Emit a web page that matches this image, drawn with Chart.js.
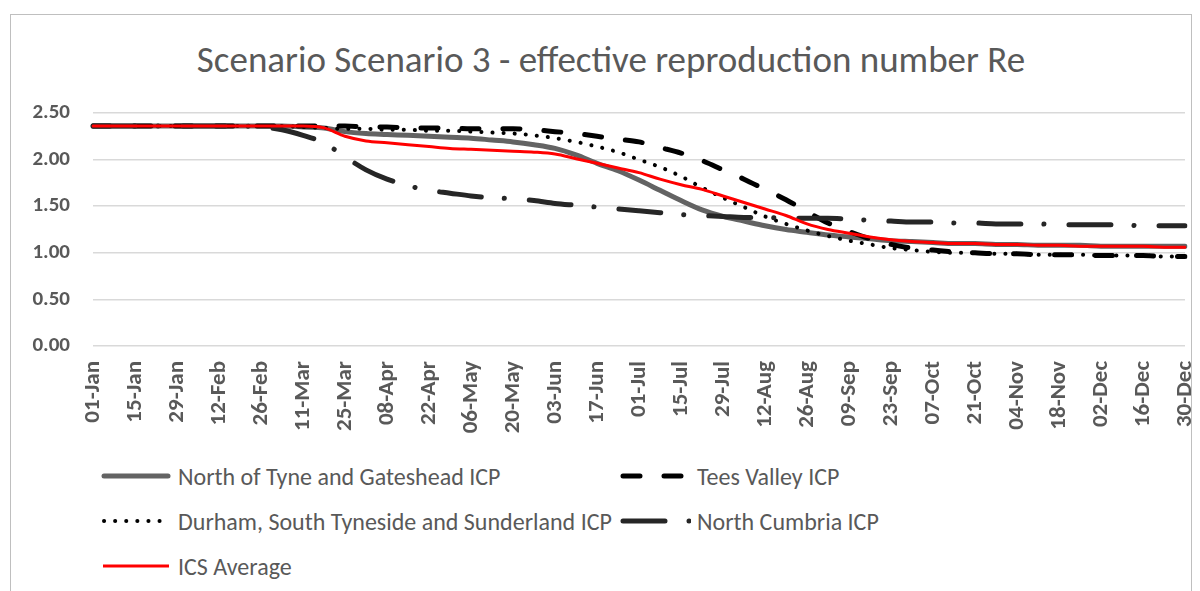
<!DOCTYPE html>
<html>
<head>
<meta charset="utf-8">
<script src="https://cdn.jsdelivr.net/npm/chart.js@4.4.1/dist/chart.umd.min.js"></script>
<style>
  body { margin: 0; background: #fff; width: 1200px; height: 591px; overflow: hidden; font-family: Carlito, Lato, sans-serif; }
  #frame { position: absolute; left: 10px; top: 14px; width: 1180px; height: 600px; border: 1px solid #bfbfbf; border-bottom: none; }
  #title { position: absolute; left: 11px; top: 38px; width: 1200px; text-align: center; font-size: 37px; font-weight: 300; line-height: 44px; color: #595959; white-space: nowrap; }
  #wrap { position: absolute; left: 0; top: 0; width: 1200px; height: 456px; }
  .leg { position: absolute; height: 30px; display: flex; align-items: center; font-size: 24px; color: #595959; white-space: nowrap; }
  .leg svg { margin-right: 6px; }
</style>
</head>
<body>
<div id="frame"></div>
<div id="title">Scenario Scenario 3 - effective reproduction number Re</div>
<div id="wrap"><canvas id="reChart"></canvas></div>

<div class="leg" style="left:100px; top:461px;">
  <svg width="72" height="10"><line x1="4" y1="5" x2="68" y2="5" stroke="#636363" stroke-width="5" stroke-linecap="round"/></svg>North of Tyne and Gateshead ICP
</div>
<div class="leg" style="left:618px; top:461px;">
  <svg width="73" height="10"><line x1="5" y1="5" x2="68" y2="5" stroke="#000" stroke-width="5" stroke-linecap="round" stroke-dasharray="17 24"/></svg>Tees Valley ICP
</div>
<div class="leg" style="left:100px; top:506px;">
  <svg width="72" height="10"><line x1="4" y1="5" x2="70" y2="5" stroke="#000" stroke-width="4" stroke-linecap="round" stroke-dasharray="0.1 11"/></svg>Durham, South Tyneside and Sunderland ICP
</div>
<div class="leg" style="left:618px; top:506px;">
  <svg width="73" height="10"><line x1="5" y1="5" x2="72" y2="5" stroke="#262626" stroke-width="5" stroke-linecap="round" stroke-dasharray="42 24 0.1 30"/></svg>North Cumbria ICP
</div>
<div class="leg" style="left:100px; top:551px;">
  <svg width="72" height="10"><line x1="3" y1="5" x2="69" y2="5" stroke="#ff0000" stroke-width="3"/></svg>ICS Average
</div>

<script>
// weekly dates, 2020 (every second one is shown on the axis)
var weekLabels = ['01-Jan', '08-Jan', '15-Jan', '22-Jan', '29-Jan', '05-Feb', '12-Feb', '19-Feb', '26-Feb',
  '04-Mar', '11-Mar', '18-Mar', '25-Mar', '01-Apr', '08-Apr', '15-Apr', '22-Apr', '29-Apr',
  '06-May', '13-May', '20-May', '27-May', '03-Jun', '10-Jun', '17-Jun', '24-Jun',
  '01-Jul', '08-Jul', '15-Jul', '22-Jul', '29-Jul', '05-Aug', '12-Aug', '19-Aug', '26-Aug',
  '02-Sep', '09-Sep', '16-Sep', '23-Sep', '30-Sep', '07-Oct', '14-Oct', '21-Oct', '28-Oct',
  '04-Nov', '11-Nov', '18-Nov', '25-Nov', '02-Dec', '09-Dec', '16-Dec', '23-Dec', '30-Dec'];

var yTicks = [0, 0.5, 1, 1.5, 2, 2.5];

var northTyne = [2.36, 2.36, 2.36, 2.36, 2.36, 2.36, 2.36, 2.36, 2.36, 2.36,
  2.35, 2.34, 2.30, 2.28, 2.27, 2.26, 2.25, 2.24, 2.23, 2.21,
  2.19, 2.16, 2.12, 2.05, 1.96, 1.88, 1.78, 1.67, 1.56, 1.46,
  1.39, 1.34, 1.29, 1.25, 1.22, 1.19, 1.17, 1.15, 1.13, 1.12,
  1.11, 1.10, 1.10, 1.09, 1.09, 1.08, 1.08, 1.08, 1.07, 1.07,
  1.07, 1.07, 1.07];

var teesValley = [2.36, 2.36, 2.36, 2.36, 2.36, 2.36, 2.36, 2.36, 2.36, 2.36,
  2.36, 2.36, 2.36, 2.35, 2.35, 2.34, 2.34, 2.34, 2.33, 2.33,
  2.33, 2.32, 2.30, 2.28, 2.25, 2.22, 2.19, 2.13, 2.07, 1.99,
  1.89, 1.79, 1.68, 1.57, 1.44, 1.32, 1.23, 1.15, 1.09, 1.05,
  1.03, 1.01, 1.00, 0.99, 0.99, 0.98, 0.98, 0.98, 0.97, 0.97,
  0.97, 0.96, 0.96];

var durham = [2.36, 2.36, 2.36, 2.36, 2.36, 2.36, 2.36, 2.36, 2.36, 2.36,
  2.35, 2.34, 2.33, 2.33, 2.32, 2.32, 2.31, 2.31, 2.30, 2.29,
  2.28, 2.26, 2.23, 2.19, 2.14, 2.08, 2.00, 1.92, 1.82, 1.70,
  1.59, 1.49, 1.39, 1.31, 1.24, 1.18, 1.13, 1.09, 1.05, 1.03,
  1.01, 1.00, 1.00, 0.99, 0.99, 0.98, 0.98, 0.98, 0.97, 0.97,
  0.97, 0.96, 0.96];

var northCumbria = [2.36, 2.36, 2.36, 2.36, 2.36, 2.36, 2.36, 2.36, 2.35, 2.32,
  2.26, 2.18, 2.03, 1.89, 1.79, 1.72, 1.67, 1.64, 1.61, 1.59,
  1.58, 1.56, 1.53, 1.51, 1.49, 1.47, 1.45, 1.43, 1.41, 1.40,
  1.39, 1.38, 1.38, 1.37, 1.37, 1.37, 1.36, 1.35, 1.34, 1.33,
  1.33, 1.32, 1.32, 1.31, 1.31, 1.31, 1.30, 1.30, 1.30, 1.30,
  1.29, 1.29, 1.29];

var icsAverage = [2.36, 2.36, 2.36, 2.36, 2.36, 2.36, 2.36, 2.36, 2.36, 2.36,
  2.36, 2.34, 2.25, 2.20, 2.18, 2.16, 2.14, 2.12, 2.11, 2.10,
  2.09, 2.08, 2.06, 2.01, 1.96, 1.91, 1.86, 1.79, 1.73, 1.68,
  1.61, 1.54, 1.47, 1.40, 1.31, 1.25, 1.21, 1.17, 1.14, 1.12,
  1.11, 1.10, 1.10, 1.09, 1.09, 1.08, 1.08, 1.07, 1.07, 1.07,
  1.07, 1.06, 1.06];

var fontName = 'Carlito, Lato, sans-serif';

function lineSet(label, data, color, width, dash, order) {
  return {
    label: label,
    data: data,
    borderColor: color,
    backgroundColor: color,
    borderWidth: width,
    borderDash: dash,
    borderCapStyle: 'round',
    pointRadius: 0,
    cubicInterpolationMode: 'monotone',
    order: order
  };
}

var reData = {
  labels: weekLabels,
  datasets: [
    lineSet('North of Tyne and Gateshead ICP', northTyne, '#636363', 5, [], 4),
    lineSet('Tees Valley ICP', teesValley, '#000000', 5, [17, 24], 3),
    lineSet('Durham, South Tyneside and Sunderland ICP', durham, '#000000', 4, [0.1, 11], 2),
    lineSet('North Cumbria ICP', northCumbria, '#262626', 5, [42, 23, 0.1, 25], 1),
    lineSet('ICS Average', icsAverage, '#ff0000', 3, [], 0)
  ]
};

var reConfig = {
  type: 'line',
  data: reData,
  options: {
    responsive: true,
    maintainAspectRatio: false,
    animation: false,
    layout: { padding: { left: 0, right: 15, top: 113, bottom: 0 } },
    plugins: {
      legend: { display: false },
      tooltip: { enabled: false },
      title: { display: false }
    },
    scales: {
      x: {
        type: 'category',
        offset: false,
        grid: { display: false },
        border: { display: false },
        ticks: {
          autoSkip: false,
          maxRotation: 90,
          minRotation: 90,
          padding: 7,
          color: '#595959',
          font: { family: fontName, size: 23, weight: 'bold' },
          callback: function (val, index) {
            return index % 2 === 0 ? this.getLabelForValue(val) : '';
          }
        },
        afterFit: function (scale) {
          scale.height = 110;
          scale.paddingLeft = 0;
          scale.paddingRight = 0;
        }
      },
      y: {
        min: 0,
        max: 2.5,
        afterBuildTicks: function (scale) {
          scale.ticks = yTicks.map(function (v) { return { value: v }; });
        },
        grid: { color: '#d9d9d9', lineWidth: 1.5, drawTicks: false },
        border: { display: false },
        ticks: {
          padding: 23,
          color: '#595959',
          font: { family: fontName, size: 21, weight: 'bold' },
          callback: function (v) { return v.toFixed(2); }
        },
        afterFit: function (scale) { scale.width = 93; }
      }
    }
  }
};

var reChart = new Chart(document.getElementById('reChart'), reConfig);
</script>
</body>
</html>
